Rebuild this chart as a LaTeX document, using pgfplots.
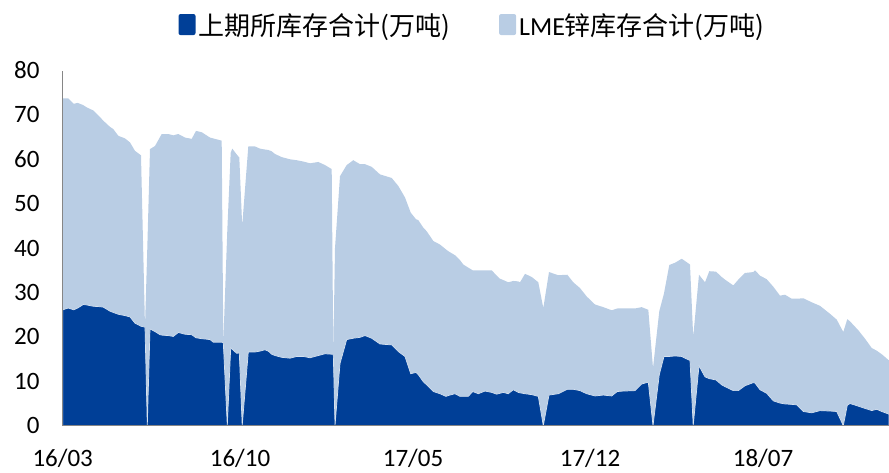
\documentclass[border=0pt]{standalone}
\usepackage{fontspec}
\setmainfont{Carlito}
\newfontfamily\cjk{Noto Sans CJK SC}
\usepackage{pgfplots}
\usepackage{pgfplotstable}
\pgfplotsset{compat=1.18}
\definecolor{shfeblue}{RGB}{0,63,151}
\definecolor{lmeblue}{RGB}{185,205,228}
\definecolor{axisgray}{RGB}{134,134,134}

% x = position along the time axis, shfe / lme in 10k tonnes
\pgfplotstableread{
x shfe lme
0 26.1 47.6
5.6 26.5 47.2
11 26.1 46.4
15 26.5 46.2
20.6 27.3 44.9
24 27.2 44.5
30.6 26.9 44.1
37.3 26.8 42.7
40.6 26.7 42.0
47.3 25.8 41.5
50.6 25.5 41.3
55.6 25.1 40.2
62.3 24.8 39.9
67.3 24.5 39.3
72.3 23.1 38.8
78.3 22.4 38.5
82.3 22.2 0
84.6 0 40
87.3 21.8 40.5
92.3 21.2 41.8
97.3 20.5 44.5
99 20.4 45.3
105.6 20.3 45.4
110.6 20.1 45.3
115.6 21.0 44.7
122.3 20.6 44.3
129 20.5 44.1
133.3 19.8 46.6
139 19.6 46.5
147.3 19.4 45.5
150.6 18.8 45.9
159 18.8 45.4
160.6 18.7 0
164.6 0 44
168 17.5 44.0
169.6 17.2 45.2
174 16.3 44.8
176.6 16.4 44.0
179.5 0 45
185.6 16.6 46.3
192.3 16.6 46.3
197.3 16.8 45.6
202.3 17.1 45.1
205.6 16.8 45.3
209 16.1 45.7
212.3 15.8 45.4
219 15.4 45.1
227.3 15.2 44.8
234 15.6 44.2
240.6 15.6 43.9
247.3 15.3 43.8
255.6 15.8 43.6
262.3 16.2 42.5
269 16.1 41.7
270.6 16.1 0
272.3 0 40
277.3 14.0 42.2
284 19.4 39.3
290.6 19.7 40.1
297.3 19.9 39.0
302.3 20.3 38.6
309 19.7 38.6
317.3 18.4 38.2
329 18.2 37.6
335.6 16.7 37.3
342.3 15.6 35.8
348 11.7 36.3
353.3 12.0 34.5
355.6 11.5 34.8
360.6 9.9 34.7
364 9.2 34.6
370.6 7.7 33.9
377.3 7.2 33.6
383.3 6.6 33.1
385.6 6.8 32.5
392.3 7.2 31.2
397.3 6.6 30.7
400.6 6.6 29.7
405.6 6.6 29.0
410 7.7 27.3
415.6 7.2 27.8
422.3 7.8 27.2
429 7.5 27.5
434 7.1 26.7
437.3 7.3 25.8
440.6 7.5 25.3
445.6 7.2 25.1
450.6 8.1 24.5
455.6 7.5 25.0
457.3 7.4 24.9
462.3 7.2 27.0
469 7.0 26.5
475.6 6.6 25.7
480.6 0 26.5
486.3 6.9 27.7
495.6 7.2 26.7
504.6 8.2 25.8
510.6 8.2 24.1
517.3 7.9 23.1
524 7.2 21.9
532.3 6.7 20.6
540.6 6.9 19.8
549 6.7 19.3
554.6 7.7 18.7
560.6 7.8 18.6
572.3 7.9 18.5
579 9.4 17.3
585.6 9.8 16.3
590.3 0 13
596.6 11.5 14.3
601.3 15.6 14.2
606.6 15.6 20.6
612.3 15.7 21.0
619 15.6 22.0
622.3 15.2 21.9
627.3 14.7 21.6
630.5 0 20
636.3 13.5 20.5
642.3 11.0 21.3
646.6 10.6 24.2
653.3 10.3 24.4
659 9.2 24.3
662.3 8.8 24.1
670.6 7.9 23.7
675.6 7.9 25.0
682.3 9.0 25.4
690.6 9.7 24.9
692.3 9.6 25.4
697.3 8.1 25.7
704 7.3 25.7
710.6 5.6 25.7
717.3 5.1 24.2
722.3 4.9 24.6
729 4.8 23.8
734 4.7 23.9
740.6 3.2 25.5
749 2.9 24.9
757.3 3.4 23.6
767.3 3.3 21.9
774 3.2 20.7
780.6 0 21.1
784.6 4.6 19.4
787.3 5.0 18.5
795.6 4.4 17.1
802.3 3.9 15.7
809 3.4 14.1
814 3.7 13.2
819 3.2 12.9
826.3 2.6 12.1
}\zinc

\begin{document}
\begin{tikzpicture}
\begin{axis}[
  at={(62.7pt,46.3pt)}, anchor=south west,
  scale only axis, width=826.3pt, height=355.2pt,
  xmin=0, xmax=826.3, ymin=0, ymax=80,
  stack plots=y,
  axis on top,
  axis x line=bottom, axis y line=left,
  axis line style={-, draw=axisgray, line width=1.5pt},
  major tick length=0pt,
  xtick={0,177.3,350.3,527.3,700.3},
  xticklabels={16/03,16/10,17/05,17/12,18/07},
  ytick={0,10,...,80},
  yticklabels={0,10,20,30,40,50,60,70,80},
  tick label style={font=\fontsize{25}{30}\selectfont, inner sep=0pt},
  xticklabel style={anchor=base, yshift=-41pt},
  yticklabel style={anchor=east, xshift=-23pt},
  legend columns=2,
  legend style={draw=none, fill=none, at={(0.4966,1.128)}, anchor=center,
    font=\fontsize{26}{31}\selectfont,
    nodes={inner sep=3pt},
    /tikz/every even column/.append style={column sep=46pt}},
  legend image code/.code={\path[#1, draw=none, rounded corners=2pt] (0pt,-10pt) rectangle (17pt,11pt);},
]
\addplot[fill=shfeblue, draw=lmeblue!60!white, line width=0.7pt] table[x=x, y=shfe] {\zinc} \closedcycle;
\addlegendentry{{\cjk 上期所库存合计(万吨)}}
\addplot[fill=lmeblue, draw=none] table[x=x, y=lme] {\zinc} \closedcycle;
\addlegendentry{LME{\cjk 锌库存合计(万吨)}}
\end{axis}
\pgfresetboundingbox
\path (0,0) rectangle (889pt,472pt);
\end{tikzpicture}
\end{document}
